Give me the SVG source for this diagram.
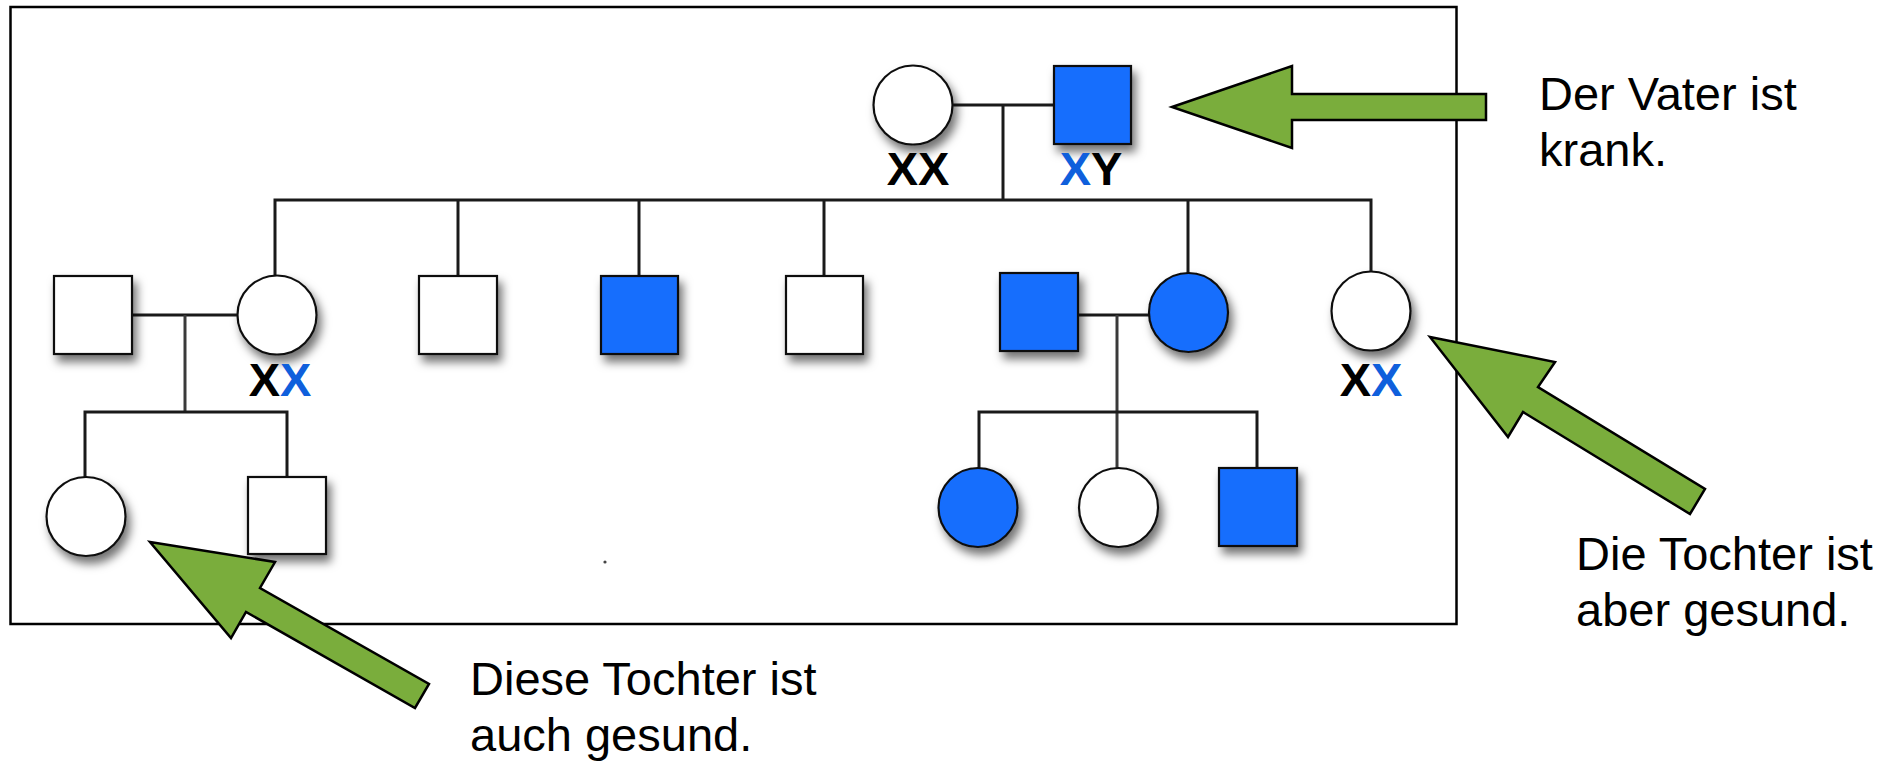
<svg xmlns="http://www.w3.org/2000/svg" width="1904" height="761" viewBox="0 0 1904 761">
<defs>
<filter id="sh" x="-40%" y="-40%" width="190%" height="190%">
<feDropShadow dx="4" dy="7" stdDeviation="5" flood-color="#000" flood-opacity="0.55"/>
</filter>
</defs>
<style>
.ln{stroke:#1a1a1a;stroke-width:3;fill:none}
.lg{stroke:#3a3a3a;stroke-width:3;fill:none}
.w{fill:#fff;stroke:#111;stroke-width:2.2;filter:url(#sh)}
.b{fill:#146efd;stroke:#111;stroke-width:2.2;filter:url(#sh)}
.gt{font-family:"Liberation Sans",Arial,sans-serif;font-weight:bold;font-size:47px;fill:#000;text-anchor:middle}
.bl{fill:#0f5fdc}
.cap{font-family:"Liberation Sans",Arial,sans-serif;font-size:47px;fill:#000}
.arr{fill:#7aad3c;stroke:#000;stroke-width:2.5;stroke-linejoin:miter}
</style>
<rect width="1904" height="761" fill="#fff"/>
<rect x="10.5" y="7" width="1446" height="617" fill="none" stroke="#000" stroke-width="2.5"/>

<g id="connectors">
<line class="ln" x1="953" y1="105" x2="1054" y2="105"/>
<line class="ln" x1="1003" y1="105" x2="1003" y2="200"/>
<polyline class="ln" points="275,276 275,200 1371,200 1371,272"/>
<line class="ln" x1="458" y1="200" x2="458" y2="276"/>
<line class="ln" x1="639" y1="200" x2="639" y2="276"/>
<line class="ln" x1="824" y1="200" x2="824" y2="276"/>
<line class="ln" x1="1188" y1="200" x2="1188" y2="273"/>
<line class="ln" x1="132" y1="315" x2="237" y2="315"/>
<line class="lg" x1="185" y1="315" x2="185" y2="412"/>
<polyline class="ln" points="85,477 85,412 287,412 287,477"/>
<line class="ln" x1="1078" y1="315" x2="1149" y2="315"/>
<line class="lg" x1="1117" y1="315" x2="1117" y2="468"/>
<polyline class="ln" points="979,468 979,412 1257,412 1257,468"/>
</g>

<g id="mother"><circle class="w" cx="913" cy="105" r="39.5"/><text class="gt" x="918" y="185">XX</text></g>
<g id="father"><rect class="b" x="1054" y="66" width="77" height="78"/><text class="gt" x="1091" y="185"><tspan class="bl">X</tspan>Y</text></g>

<g id="husband1"><rect class="w" x="54" y="276" width="78" height="78"/></g>
<g id="daughter1"><circle class="w" cx="277" cy="315" r="39.5"/><text class="gt" x="280" y="396">X<tspan class="bl">X</tspan></text></g>
<g id="son1"><rect class="w" x="419" y="276" width="78" height="78"/></g>
<g id="son2"><rect class="b" x="601" y="276" width="77" height="78"/></g>
<g id="son3"><rect class="w" x="786" y="276" width="77" height="78"/></g>
<g id="husband2"><rect class="b" x="1000" y="273" width="78" height="78"/></g>
<g id="daughter2"><circle class="b" cx="1188.5" cy="312.5" r="39.5"/></g>
<g id="daughter3"><circle class="w" cx="1371" cy="311" r="39.5"/><text class="gt" x="1371" y="396">X<tspan class="bl">X</tspan></text></g>

<g id="grand1"><circle class="w" cx="86" cy="516.5" r="39.5"/></g>
<g id="grand2"><rect class="w" x="248" y="477" width="78" height="77"/></g>
<g id="grand3"><circle class="b" cx="978" cy="507.5" r="39.5"/></g>
<g id="grand4"><circle class="w" cx="1118.5" cy="507.5" r="39.5"/></g>
<g id="grand5"><rect class="b" x="1219" y="468" width="78" height="78"/></g>

<circle cx="605" cy="562" r="1.6" fill="#444"/>

<g id="arrow-top"><polygon class="arr" points="1172,107 1292,66 1292,94 1486,94 1486,120 1292,120 1292,148"/></g>
<g id="arrow-right"><polygon class="arr" points="1430,337 1555,362 1538,387 1705,489 1690,514 1523,412 1508,437"/></g>
<g id="arrow-left"><polygon class="arr" points="150,542 275,562 260,588 429,684 415,708 246,612 231,638"/></g>

<g id="label-top"><text class="cap" x="1539" y="110">Der Vater ist</text><text class="cap" x="1539" y="166">krank.</text></g>
<g id="label-right"><text class="cap" x="1576" y="570">Die Tochter ist</text><text class="cap" x="1576" y="626">aber gesund.</text></g>
<g id="label-left"><text class="cap" x="470" y="695">Diese Tochter ist</text><text class="cap" x="470" y="751">auch gesund.</text></g>
</svg>
